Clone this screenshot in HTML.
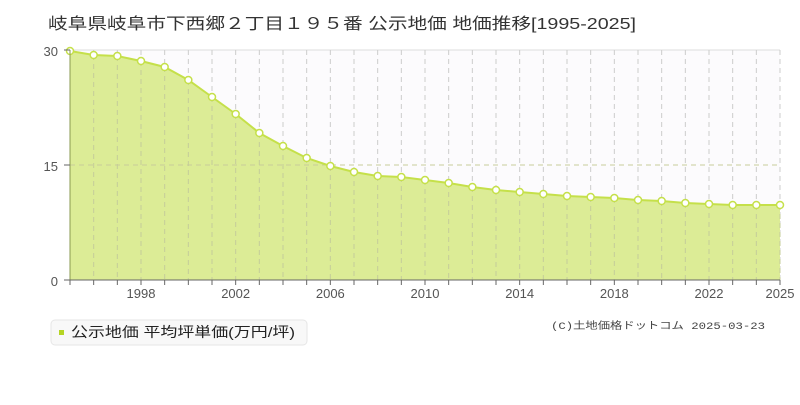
<!DOCTYPE html>
<html><head><meta charset="utf-8"><style>
body{margin:0;background:#fff;width:800px;height:400px;overflow:hidden;font-family:"Liberation Sans","Noto Sans CJK JP",sans-serif}
</style></head><body>
<svg id="s" width="800" height="400" xmlns="http://www.w3.org/2000/svg" font-family="Liberation Sans, Noto Sans CJK JP, sans-serif">
<text x="48" y="29" font-size="16" fill="#333" textLength="588" lengthAdjust="spacingAndGlyphs">岐阜県岐阜市下西郷２丁目１９５番 公示地価 地価推移[1995-2025]</text>
<rect x="70" y="50" width="710" height="230" fill="#fcfbfd"/>
<g id="g"></g>
<text x="58" y="56" font-size="13" fill="#555" text-anchor="end">30</text>
<text x="58" y="171" font-size="13" fill="#555" text-anchor="end">15</text>
<text x="58" y="286" font-size="13" fill="#555" text-anchor="end">0</text>
<rect x="51" y="320" width="256" height="25" rx="4" fill="#f8f8f8" stroke="#e6e6e6"/>
<rect x="59" y="330" width="5" height="5" fill="#b5d424"/>
<text x="71" y="337" font-size="14" fill="#222" textLength="224" lengthAdjust="spacingAndGlyphs">公示地価 平均坪単価(万円/坪)</text>
<text x="551" y="329" font-size="10" fill="#444" textLength="214" lengthAdjust="spacingAndGlyphs" font-family="Liberation Mono, Noto Sans CJK JP, monospace">(C)土地価格ドットコム 2025-03-23</text>
</svg>
<script>
var ys=[51,55,56,61,67,80,97,114,133,146,158,166,172,176,177,180,183,187,190,192,194,196,197,198,200,201,203,204,205,205,205];
var h='';var X=function(i){return 70+i*710/30};
h+='<line x1="70" y1="50" x2="780" y2="50" stroke="#ddd"/>';
h+='<line x1="70" y1="165" x2="780" y2="165" stroke="#ccc" stroke-dasharray="5,4"/>';
for(var i=1;i<=30;i++)h+='<line x1="'+X(i)+'" y1="50" x2="'+X(i)+'" y2="280" stroke="#ccc" stroke-dasharray="5,4"/>';
var p=ys.map(function(y,i){return X(i)+','+y}).join(' ');
h+='<polygon points="70,280 '+p+' 780,280" fill="#dcec96"/>';
h+='<line x1="70" y1="165" x2="780" y2="165" stroke="#c8cc9a" stroke-dasharray="5,4"/>';
for(var i=1;i<=30;i++)h+='<line x1="'+X(i)+'" y1="'+ys[i]+'" x2="'+X(i)+'" y2="280" stroke="#c5cc9a" stroke-dasharray="5,4"/>';
h+='<polyline points="'+p+'" fill="none" stroke="#c5e04a" stroke-width="2"/>';
ys.forEach(function(y,i){h+='<circle cx="'+X(i)+'" cy="'+y+'" r="3.5" fill="#fff" stroke="#c5e04a" stroke-width="1.5"/>'});
h+='<line x1="70" y1="50" x2="70" y2="280" stroke="#8a9a50"/><line x1="64" y1="280" x2="780" y2="280" stroke="#666"/>';
h+='<line x1="64" y1="165" x2="70" y2="165" stroke="#666"/><line x1="64" y1="50" x2="70" y2="50" stroke="#666"/>';
for(var i=0;i<=30;i++)h+='<line x1="'+X(i)+'" y1="280" x2="'+X(i)+'" y2="285" stroke="#666"/>';
for(var y=1998;y<=2025;y+=4){var i=y-1995;h+='<text x="'+X(i)+'" y="298" font-size="13" fill="#555" text-anchor="middle">'+y+'</text>';}
h+='<text x="'+X(30)+'" y="298" font-size="13" fill="#555" text-anchor="middle">2025</text>';
document.getElementById('g').outerHTML=h;
</script>
</body></html>
